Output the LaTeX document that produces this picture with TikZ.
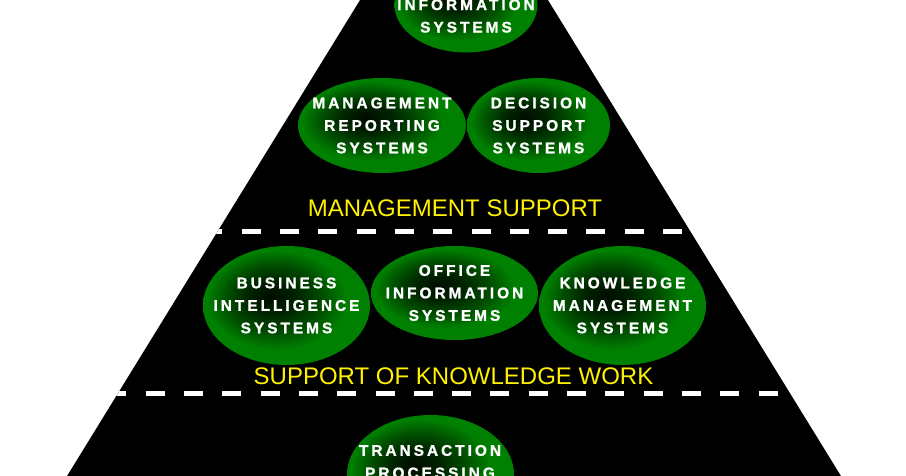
\documentclass[tikz,border=0pt]{standalone}
\usepackage{fontspec}
\setmainfont{Liberation Sans}
\newfontfamily\sysfont{Liberation Sans}[LetterSpace=19.5,BoldFeatures={FakeBold=1.2}]
\usetikzlibrary{shapes.geometric}
\definecolor{sysgreen}{RGB}{0,128,0}
\definecolor{sysdark}{RGB}{0,12,0}
\pgfdeclareradialshading{sysglow}{\pgfpoint{-5bp}{4bp}}{color(0bp)=(sysdark); color(7bp)=(sysdark!80!sysgreen); color(14bp)=(sysdark!45!sysgreen); color(21bp)=(sysgreen); color(50bp)=(sysgreen)}

\begin{document}
\begin{tikzpicture}[x=1pt,y=-1pt,
	sysoval/.style={ellipse,shade,shading=sysglow,inner sep=0pt,minimum width=167pt,minimum height=119pt},
	systext/.style={text=white,align=center,inner sep=0pt,font=\sysfont\bfseries\fontsize{15.4}{22.5}\selectfont},
	levellabel/.style={text=yellow,inner sep=0pt,font=\fontsize{24}{28}\selectfont},
	separator/.style={white,line width=5pt,dash pattern=on 19pt off 19.3pt}]
	\clip (0,0) rectangle (906,476);
	\fill[white] (0,0) rectangle (906,476);
	% pyramid
	\fill[black] (366.2,-10) -- (541.8,-10) -- (847.1,486) -- (60.9,486) -- cycle;
	\begin{scope}
		\clip (366.2,-10) -- (541.8,-10) -- (847.1,486) -- (60.9,486) -- cycle;
		\draw[separator] (203.4,232) -- (700,232);
		\draw[separator] (107.4,393) -- (800,393);
	\end{scope}
	%	top level
	\node[sysoval,minimum width=143pt,minimum height=95pt] (eis) at (466,5) {};
	\node[systext] (eis-t) at (466,16) {INFORMATION\\SYSTEMS};
	\node[sysoval,minimum width=168pt,minimum height=95pt] (mrs) at (382,125.5) {};
	\node[systext] (mrs-t) at (mrs) {MANAGEMENT\\REPORTING\\SYSTEMS};
	\node[sysoval,minimum width=143pt,minimum height=95pt] (dss) at (538.5,125.5) {};
	\node[systext] (dss-t) at (dss) {DECISION\\SUPPORT\\SYSTEMS};
	\node[levellabel] (ms) at (455,208) {MANAGEMENT SUPPORT};
	%	middle level
	\node[sysoval] (bis) at (286.5,305.5) {};
	\node[systext] (bis-t) at (bis) {BUSINESS\\INTELLIGENCE\\SYSTEMS};
	\node[sysoval,minimum height=94pt] (ois) at (454.5,293) {};
	\node[systext] (ois-t) at (ois) {OFFICE\\INFORMATION\\SYSTEMS};
	\node[sysoval] (kms) at (622.5,305.5) {};
	\node[systext] (kms-t) at (kms) {KNOWLEDGE\\MANAGEMENT\\SYSTEMS};
	\node[levellabel] (skw) at (453.5,376) {SUPPORT OF KNOWLEDGE WORK};
	%	bottom level
	\node[sysoval] (tps) at (430.5,474.5) {};
	\node[systext] (tps-t) at (430,473) {TRANSACTION\\PROCESSING\\SYSTEMS};
\end{tikzpicture}
\end{document}
